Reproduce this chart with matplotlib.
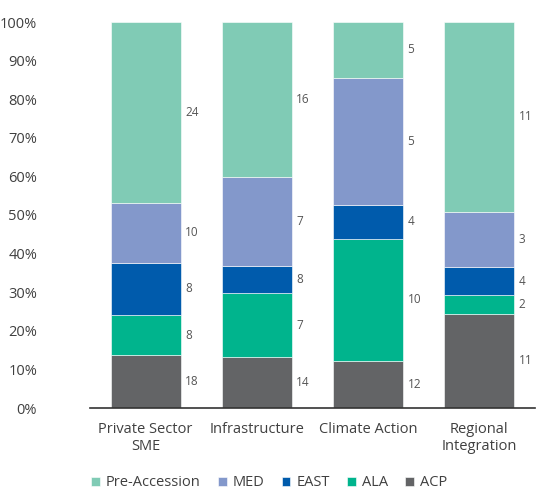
import numpy as np
import matplotlib.pyplot as plt

plt.rcParams['font.family'] = ['Open Sans', 'DejaVu Sans']

categories = ["Private Sector\nSME", "Infrastructure", "Climate Action", "Regional\nIntegration"]
series = ["ACP", "ALA", "EAST", "MED", "Pre-Accession"]
colors = ["#636466", "#00B48D", "#005BAC", "#8398CB", "#80CBB5"]

# share of each region in percent (bar heights)
shares = {
    "ACP":           [13.7, 13.2, 12.2, 24.4],
    "ALA":           [10.4, 16.6, 31.6, 4.9],
    "EAST":          [13.5, 7.0, 8.8, 7.2],
    "MED":           [15.6, 23.0, 33.0, 14.3],
    "Pre-Accession": [46.8, 40.2, 14.4, 49.2],
}
# numbers printed next to each segment
counts = {
    "ACP":           [18, 14, 12, 11],
    "ALA":           [8, 7, 10, 2],
    "EAST":          [8, 8, 4, 4],
    "MED":           [10, 7, 5, 3],
    "Pre-Accession": [24, 16, 5, 11],
}


def draw_chart():
    fig = plt.figure(figsize=(5.38, 4.93), dpi=100)
    ax = fig.add_axes([90 / 538, 1 - 408 / 493, 445 / 538, 386 / 493])

    x = np.arange(len(categories))
    width = 0.63
    bottom = np.zeros(len(categories))
    for name, col in zip(series, colors):
        vals = np.array(shares[name])
        ax.bar(x, vals, width, bottom=bottom, color=col, label=name,
               edgecolor='white', linewidth=0.4)
        for i in range(len(categories)):
            ax.text(x[i] + width / 2 + 0.04, bottom[i] + vals[i] / 2,
                    str(counts[name][i]), va='center', ha='left',
                    fontsize=8.5, color='#555555')
        bottom += vals

    ax.set_xlim(-0.5, 3.5)
    ax.set_ylim(0, 100)
    ax.set_yticks(np.arange(0, 101, 10))
    ax.set_yticklabels([f"{v}%" for v in range(0, 101, 10)])
    ax.set_xticks(x)
    ax.set_xticklabels(categories)
    ax.tick_params(axis='y', length=0, pad=38, labelsize=10.5, labelcolor='#404040')
    ax.tick_params(axis='x', length=0, pad=10, labelsize=10.5, labelcolor='#404040')
    for s in ['top', 'right', 'left']:
        ax.spines[s].set_visible(False)
    ax.spines['bottom'].set_color('#333333')
    ax.spines['bottom'].set_linewidth(1.2)

    handles, labels = ax.get_legend_handles_labels()
    leg = fig.legend(handles[::-1], labels[::-1], loc='center', ncol=5,
                     bbox_to_anchor=(0.5, 1 - 483 / 493), frameon=False,
                     fontsize=10.5, handlelength=0.6, handleheight=0.6,
                     handletextpad=0.4, columnspacing=1.2)
    for t in leg.get_texts():
        t.set_color('#404040')

    fig.savefig('out.png', dpi=100)


if __name__ == '__main__':
    draw_chart()
